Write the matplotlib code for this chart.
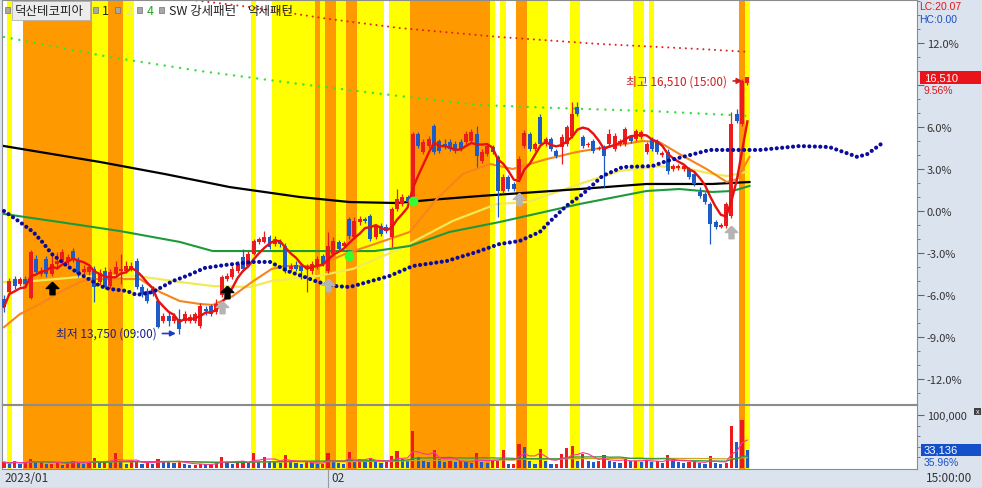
import numpy as np
import pandas as pd
import matplotlib
matplotlib.use('Agg')
import matplotlib.pyplot as plt
from matplotlib.patches import Rectangle

plt.rcParams['font.family'] = ['Noto Sans CJK KR', 'DejaVu Sans']

W, H = 982, 489

# candles as % change from reference price (16,510 = +9.56%)
opens = [-6.29, -5.79, -4.86, -5.21, -4.86, -6.21, -3.43, -4.5, -3.43, -4.5,
         -3.79, -3.64, -3.57, -2.86, -3.57, -4.36, -4.36, -4.14, -5.07, -4.29,
         -5.36, -4.5, -4.29, -4.29, -4.14, -3.57, -5.43, -5.71, -5.57, -6.43,
         -7.86, -7.5, -7.86, -7.71, -7.86, -7.86, -7.86, -8.21, -7.0, -6.79,
         -7.21, -6.0, -4.86, -4.71, -4.29, -3.29, -3.93, -3.07, -2.21, -2.21,
         -1.86, -2.36, -2.21, -2.5, -4.14, -3.86, -3.93, -4.14, -4.29, -3.93,
         -3.21, -4.29, -3.07, -2.21, -2.5, -0.57, -1.86, -0.79, -0.57, -0.36,
         -1.86, -1.07, -1.14, -1.86, 0.14, 0.5, 1.0, 0.64, 5.5, 4.21,
         4.64, 6.07, 5.0, 4.79, 4.93, 4.79, 4.93, 4.93, 5.0, 5.5,
         3.57, 4.07, 4.57, 3.86, 1.43, 2.43, 1.93, 2.29, 4.64, 5.5,
         4.43, 6.71, 4.79, 5.14, 4.29, 4.57, 4.79, 5.36, 7.43, 5.29,
         4.71, 5.0, 4.43, 4.57, 4.79, 4.43, 4.79, 4.79, 5.29, 5.14,
         5.29, 4.21, 5.14, 5.0, 4.0, 4.21, 3.0, 3.07, 3.0, 3.0,
         2.64, 1.36, 1.21, 0.5, -0.79, -1.14, -1.07, -0.36, 6.93, 6.21,
         9.14]
closes = [-6.86, -5.0, -5.36, -4.86, -5.21, -2.93, -4.36, -4.29, -4.5, -3.79,
          -3.57, -2.93, -3.29, -3.43, -4.5, -4.14, -4.0, -5.43, -4.43, -5.43,
          -4.36, -4.0, -4.14, -3.93, -3.93, -5.43, -5.93, -6.43, -5.93, -8.29,
          -7.5, -7.86, -7.5, -8.43, -7.36, -7.57, -7.36, -6.79, -7.14, -7.36,
          -6.64, -4.71, -4.64, -4.14, -3.79, -4.14, -3.07, -2.14, -2.0, -1.86,
          -2.57, -2.0, -2.36, -4.29, -3.93, -4.14, -4.29, -3.93, -3.79, -3.43,
          -3.79, -2.5, -2.14, -2.71, -2.29, -1.79, -0.71, -0.57, -0.71, -2.0,
          -1.07, -1.64, -1.43, 0.14, 0.86, 1.0, 0.64, 5.5, 4.64, 4.93,
          5.14, 4.21, 4.29, 4.57, 4.43, 4.29, 4.43, 5.5, 5.64, 3.93,
          4.21, 4.64, 4.21, 1.43, 2.43, 1.57, 1.57, 3.71, 5.57, 4.43,
          4.79, 4.79, 5.14, 4.43, 3.93, 5.29, 6.0, 6.93, 6.93, 4.64,
          4.79, 4.29, 4.5, 3.93, 5.5, 5.36, 5.0, 5.86, 5.0, 5.71,
          5.64, 4.79, 4.43, 4.21, 4.14, 2.86, 3.21, 3.21, 3.21, 2.43,
          1.93, 1.07, 0.64, -0.93, -1.14, -1.0, 0.5, 6.21, 6.43, 9.29,
          9.56]
highs = [-6.0, -4.79, -4.64, -4.71, -4.64, -2.79, -3.14, -4.0, -3.21, -3.07,
         -2.93, -2.71, -3.07, -2.64, -3.29, -3.86, -3.79, -3.93, -4.14, -4.0,
         -4.14, -3.57, -3.07, -3.57, -3.64, -3.36, -5.21, -5.5, -5.36, -6.29,
         -7.29, -7.14, -7.29, -7.0, -7.14, -7.36, -7.21, -6.57, -6.79, -6.64,
         -6.29, -4.57, -4.43, -3.93, -3.57, -2.71, -2.86, -2.0, -1.86, -1.43,
         -1.71, -1.79, -2.0, -2.29, -3.71, -3.57, -3.79, -3.79, -3.57, -3.21,
         -3.07, -1.5, -1.86, -2.07, -2.14, -0.43, -0.43, -0.36, -0.43, -0.21,
         -0.93, -0.86, -0.93, 0.29, 1.57, 1.21, 1.14, 5.64, 5.64, 5.14,
         5.36, 6.21, 5.14, 5.14, 5.14, 5.0, 5.14, 5.71, 5.86, 6.07,
         4.43, 4.79, 4.71, 4.0, 2.64, 2.57, 2.07, 3.93, 5.79, 5.64,
         4.93, 6.93, 5.29, 5.29, 4.43, 5.5, 6.14, 7.79, 7.79, 5.43,
         4.93, 5.14, 4.64, 4.71, 5.86, 5.57, 5.14, 6.0, 5.43, 5.86,
         5.79, 4.93, 5.29, 5.14, 4.29, 4.43, 3.36, 3.36, 3.36, 3.14,
         2.79, 1.71, 1.36, 0.64, -0.64, -0.86, 0.64, 7.07, 7.29, 9.43,
         9.56]
lows = [-7.21, -6.0, -5.57, -5.36, -5.43, -6.29, -4.5, -4.64, -4.71, -4.64,
        -4.14, -3.79, -3.86, -3.64, -4.71, -4.5, -4.57, -6.5, -5.29, -5.57,
        -5.5, -4.64, -5.21, -4.43, -4.29, -5.57, -6.14, -6.57, -6.07, -8.36,
        -8.0, -8.21, -8.0, -8.75, -8.0, -8.0, -8.0, -8.36, -7.43, -7.5,
        -7.36, -6.14, -5.0, -4.86, -4.43, -4.29, -4.0, -3.14, -2.36, -2.29,
        -2.71, -2.5, -2.57, -4.43, -4.29, -4.29, -4.86, -5.79, -4.5, -4.14,
        -3.93, -4.43, -3.21, -2.86, -2.64, -2.0, -2.0, -1.0, -0.86, -2.14,
        -2.0, -1.79, -1.57, -2.57, 0.0, 0.36, 0.5, 0.5, 4.5, 4.07,
        4.5, 4.07, 4.14, 4.43, 4.29, 4.14, 4.29, 4.79, 4.86, 3.14,
        3.43, 3.93, 4.07, -0.43, 1.29, 1.43, 1.43, 2.14, 4.5, 4.29,
        4.29, 4.64, 4.64, 4.29, 3.79, 3.36, 4.64, 5.21, 6.79, 4.5,
        4.57, 4.14, 4.36, 1.71, 4.64, 4.29, 4.64, 4.64, 4.86, 5.0,
        5.14, 4.07, 4.29, 4.07, 3.86, 2.64, 2.86, 2.93, 2.86, 2.29,
        1.79, 0.93, 0.5, -2.36, -1.29, -1.21, -1.21, -0.5, 6.29, 6.07,
        9.0]
volumes = [11000, 8000, 13000, 8000, 11000, 17000, 11000, 14000, 8000, 8000,
           11000, 6000, 10000, 14000, 10000, 8000, 11000, 19000, 11000, 12000,
           11000, 28000, 14000, 8000, 11000, 14000, 8000, 10000, 8000, 17000,
           14000, 12000, 10000, 11000, 8000, 5000, 6000, 8000, 7000, 8000,
           10000, 21000, 11000, 8000, 11000, 14000, 10000, 28000, 11000, 21000,
           14000, 11000, 10000, 25000, 11000, 10000, 8000, 11000, 10000, 8000,
           8000, 28000, 11000, 10000, 8000, 30000, 13000, 17000, 11000, 19000,
           13000, 10000, 11000, 22000, 32000, 17000, 13000, 70000, 21000, 14000,
           11000, 34000, 17000, 11000, 14000, 11000, 13000, 11000, 10000, 28000,
           11000, 10000, 13000, 14000, 34000, 8000, 8000, 45000, 40000, 13000,
           8000, 35000, 14000, 8000, 8000, 27000, 37000, 41000, 14000, 27000,
           14000, 11000, 14000, 24000, 13000, 11000, 10000, 19000, 14000, 14000,
           11000, 16000, 11000, 13000, 10000, 24000, 13000, 11000, 10000, 11000,
           14000, 10000, 8000, 22000, 10000, 8000, 10000, 80000, 50000, 91000,
           33136]

# pattern flags: (first candle, last candle, kind)
bands = [(1, 1, 'y'), (4, 16, 'o'), (17, 19, 'y'), (20, 22, 'o'), (23, 24, 'y'),
         (47, 47, 'y'), (51, 58, 'y'), (59, 59, 'o'), (60, 60, 'y'), (61, 62, 'o'),
         (63, 64, 'y'), (65, 66, 'o'), (67, 71, 'y'), (73, 76, 'y'), (77, 91, 'o'),
         (92, 92, 'y'), (94, 94, 'y'), (97, 98, 'o'), (99, 102, 'y'), (107, 108, 'y'),
         (119, 120, 'y'), (122, 122, 'y'), (139, 139, 'o'), (140, 140, 'y')]

# longer averages / envelopes (candle index, %)
orange_x = [0, 3.0, 6.8, 10.5, 14.3, 16.7, 25.6, 29.4, 33.1, 36.9, 39.3, 43.1, 46.7, 50.4,
            52.9, 59.1, 64.2, 69.8, 76.4, 81.5, 86.4, 91.5, 95.8, 102.2, 107.8, 114.6,
            120.2, 123.4, 127.2, 132.3, 136.1, 138.1, 140.4]
orange_y = [-8.3, -7.36, -6.64, -5.79, -5.07, -4.86, -4.86, -5.79, -6.43, -6.64, -6.71, -6.07,
            -5.07, -4.14, -3.93, -3.93, -3.07, -2.36, -1.5, 0.86, 2.64, 3.36, 3.0, 3.71, 4.21,
            4.64, 5.0, 4.93, 4.07, 3.0, 2.07, 2.29, 3.86]
yellow_x = [0, 5.5, 11.9, 16.2, 25.0, 33.1, 39.3, 46.3, 50.4, 59.1, 65.7, 74.5, 84.5, 92.8,
            98.6, 108.4, 115.9, 123.4, 129.1, 133.4, 136.2, 139.8]
yellow_y = [-5.07, -5.0, -4.79, -4.64, -4.64, -5.07, -5.36, -5.43, -5.0, -4.64, -4.14, -2.71,
            -0.71, 0.5, 0.64, 1.93, 2.86, 3.21, 3.0, 2.64, 2.5, 2.79]
green_x = [0, 10.5, 21.8, 33.1, 39.3, 46.7, 69.8, 76.4, 83.9, 93.3, 108.4, 121.0, 127.2,
           133.4, 137.2, 140.4]
green_y = [-0.21, -0.79, -1.43, -2.21, -2.86, -2.86, -2.86, -2.5, -1.5, -0.79, 0.5, 1.43,
           1.57, 1.36, 1.43, 1.79]
black_x = [0, 18.1, 30.3, 42.5, 55.7, 65.1, 74.0, 80.2, 89.6, 108.4, 121.0, 133.4, 140.4]
black_y = [4.64, 3.5, 2.64, 1.71, 1.0, 0.64, 0.57, 0.79, 1.07, 1.57, 1.93, 1.93, 2.07]
gdot_x = [0, 19.9, 36.9, 55.7, 74.5, 89.6, 103.7, 121.6, 140.4]
gdot_y = [12.43, 11.0, 10.0, 9.07, 8.21, 7.57, 7.36, 7.14, 6.79]
rdot_x = [34.1, 46.3, 61.3, 74.5, 93.3, 112.2, 131.0, 140.4]
rdot_y = [15.14, 14.57, 13.71, 13.07, 12.43, 11.93, 11.57, 11.36]
sar_x = [0, 3.0, 5.5, 7.2, 9.0, 11.9, 14.3, 16.6, 18.1, 19.9, 23.1, 25.0, 28.0, 31.8, 34.4,
         37.8, 41.6, 46.7, 50.1, 53.4, 56.1, 59.1, 62.3, 65.1, 72.6, 77.0, 83.4, 89.0, 93.3,
         97.1, 100.9, 102.7, 105.9, 109.0, 112.7, 116.5, 122.1, 124.8, 128.5, 132.9, 142.3,
         149.8, 155.4, 159.2, 160.7, 162.6, 165.2]
sar_y = [0.0, -0.79, -1.5, -2.21, -3.07, -3.93, -4.5, -5.0, -5.36, -5.57, -5.71, -6.0, -5.79,
         -5.0, -4.64, -4.07, -3.86, -3.64, -3.64, -4.29, -4.64, -5.07, -5.36, -5.43, -4.64,
         -3.93, -3.57, -2.93, -2.36, -2.14, -1.5, -0.79, 0.36, 1.21, 2.5, 3.14, 3.21, 3.57,
         3.93, 4.36, 4.36, 4.64, 4.57, 4.07, 3.86, 4.07, 4.79]

# signals
black_arrow_x, black_arrow_y = [9, 42], [-5.5, -5.79]
gray_arrow_x, gray_arrow_y = [41, 61, 97, 137], [-6.86, -5.29, 0.86, -1.5]
green_sig_x, green_sig_y = [65, 77], [-3.21, 0.71]

# ---------------------------------------------------------------
STEP, X0 = 5.31, 4.0   # pixel spacing of candles, first candle pixel
NUM = ['Liberation Sans', 'DejaVu Sans']


def fbox(x0, y0, x1, y1):
    return [x0 / W, 1 - y1 / H, (x1 - x0) / W, (y1 - y0) / H]


def fx(x):
    return x / W


def fy(y):
    return 1 - y / H


fig = plt.figure(figsize=(W / 100, H / 100), dpi=100, facecolor='#dbe3ef')
ax = fig.add_axes(fbox(2, 1, 917, 405))
axv = fig.add_axes(fbox(2, 406, 917, 470))

xlim = ((2 - X0) / STEP, (917 - X0) / STEP)
ax.set_xlim(*xlim)
axv.set_xlim(*xlim)
ax.set_ylim((212 - 405) / 14, (212 - 1) / 14)
axv.set_ylim(-1900, 118900)

band_col = {'o': '#ff9900', 'y': '#ffff00'}
for a, b, k in bands:
    for axx in (ax, axv):
        axx.axvspan(a - 0.5, b + 0.5, color=band_col[k], lw=0, zorder=0)

df = pd.DataFrame({'o': opens, 'h': highs, 'l': lows, 'c': closes, 'v': volumes})
x = np.arange(len(df))
up = df['c'] >= df['o']
ccol = np.where(up, '#ec1c1c', '#1c5cc4')

# moving lines
ax.plot(yellow_x, yellow_y, color='#f2ea55', lw=1.6, zorder=2)
ax.plot(green_x, green_y, color='#1c9a3a', lw=1.5, zorder=2)
ax.plot(black_x, black_y, color='black', lw=1.6, zorder=2)
ax.plot(orange_x, orange_y, color='#f7841c', lw=1.5, zorder=2)
ax.plot(gdot_x, gdot_y, color='#3ae03a', lw=1.8, ls=(0, (0.01, 3.1)),
        dash_capstyle='round', zorder=2)
ax.plot(rdot_x, rdot_y, color='#e02020', lw=1.5, ls=(0, (0.01, 2.8)),
        dash_capstyle='round', zorder=2)

# candles
ax.vlines(x, df['l'], df['h'], colors=ccol, lw=0.9, zorder=3)
body = (df['c'] - df['o']).abs().clip(lower=0.08)
ax.bar(x, body, bottom=df[['o', 'c']].min(axis=1), width=0.75, color=ccol, lw=0, zorder=3)

ma5 = df['c'].rolling(5, min_periods=1).mean()
ax.plot(x, ma5, color='#e81010', lw=1.7, zorder=4)

ax.plot(sar_x, sar_y, color='#0c0c9c', lw=3.0, ls=(0, (0.01, 1.3)),
        dash_capstyle='round', zorder=5)

arrow = [(0, 1), (-1, 0), (-0.4, 0), (-0.4, -1), (0.4, -1), (0.4, 0), (1, 0), (0, 1)]
ax.plot(black_arrow_x, black_arrow_y, ls='none', marker=arrow, ms=9, color='black', zorder=6)
ax.plot(gray_arrow_x, gray_arrow_y, ls='none', marker=arrow, ms=9, color='#b4b4b4', zorder=6)
ax.plot(green_sig_x, green_sig_y, ls='none', marker='o', ms=6, color='#33ff33', zorder=6)

# low / high notes
ax.text(28.8, -8.75, '최저 13,750 (09:00)', ha='right', va='center', color='#1c1c8c',
        fontsize=8.5, zorder=7)
ax.annotate('', xy=(32.9, -8.75), xytext=(29.3, -8.75),
            arrowprops=dict(arrowstyle='-|>', color='#1c3cc8', lw=1.2, mutation_scale=8), zorder=7)
ax.text(136.2, 9.29, '최고 16,510 (15:00)', ha='right', va='center', color='#cc2020',
        fontsize=8.5, zorder=7)
ax.annotate('', xy=(139.6, 9.29), xytext=(136.8, 9.29),
            arrowprops=dict(arrowstyle='-|>', color='#cc2020', lw=1.2, mutation_scale=8), zorder=7)

# volume panel
vup = df['v'].diff().fillna(1) >= 0
vcol = np.where(vup, '#ec1c1c', '#1c5cc4')
axv.bar(x, df['v'], width=0.6, color=vcol, lw=0, zorder=3)
axv.plot(x, df['v'].rolling(60, min_periods=1).mean(), color='#d0a020', lw=0.9, zorder=4)
axv.plot(x, df['v'].rolling(20, min_periods=1).mean(), color='#2a9a3a', lw=0.9, zorder=4)
axv.plot(x, df['v'].rolling(5, min_periods=1).mean(), color='#ff3399', lw=0.8, zorder=4)

# axes styling
for axx in (ax, axv):
    axx.set_facecolor('white')
    axx.set_xticks([])
    for s in axx.spines.values():
        s.set_color('#8c8c8c')
        s.set_linewidth(0.8)
    axx.yaxis.tick_right()
    axx.tick_params(axis='y', which='major', length=5, color='#666666', labelsize=8,
                    labelcolor='#333333', pad=2)
    axx.tick_params(axis='y', which='minor', length=2.5, color='#666666')

pct_ticks = [-12, -9, -6, -3, 0, 3, 6, 9, 12]
ax.set_yticks(pct_ticks)
ax.set_yticklabels(['' if t == 9 else f'{t:.1f}%' for t in pct_ticks])
ax.set_yticks(np.arange(-13, 16, 1), minor=True)
axv.set_yticks([100000])
axv.set_yticklabels(['100,000'])
axv.set_yticks([20000, 40000, 60000, 80000], minor=True)


# legend row
def box(x0, y0, x1, y1, fc, ec='none', lw=0.6):
    fig.add_artist(Rectangle((fx(x0), fy(y1)), (x1 - x0) / W, (y1 - y0) / H,
                             transform=fig.transFigure, fc=fc, ec=ec, lw=lw, zorder=5))


box(12, 2, 90, 21, '#ececec', '#b0b0b0')
for sx in (5, 93, 115, 137, 159):
    box(sx, 8, sx + 5, 14, '#a8a8a8', '#707070', 0.5)
fig.text(fx(15), fy(11.5), '덕산테코피아', fontsize=9, color='#222222', va='center', zorder=6)
fig.text(fx(102), fy(11.5), '1', fontsize=9, color='#222222', va='center', zorder=6)
fig.text(fx(125), fy(11.5), '2', fontsize=9, color='#e4e48a', va='center', zorder=6)
fig.text(fx(147), fy(11.5), '4', fontsize=9, color='#22aa22', va='center', zorder=6)
fig.text(fx(169), fy(11.5), 'SW 강세패턴', fontsize=9, color='#222222', va='center', zorder=6)
fig.text(fx(247), fy(11.5), '약세패턴', fontsize=9, color='#222222', va='center', zorder=6)

# right side readouts
fig.text(fx(919), fy(7.5), 'LC:20.07', fontsize=7.5, family=NUM, color='#e01818', va='center')
fig.text(fx(919), fy(20), 'HC:0.00', fontsize=7.5, family=NUM, color='#1a4fc0', va='center')
box(920, 72, 981, 85, '#e8141a')
fig.text(fx(924), fy(78.5), '16,510', fontsize=8, family=NUM, color='white', va='center', zorder=6)
fig.text(fx(924), fy(91), '9.56%', fontsize=7.5, family=NUM, color='#e01818', va='center')
box(921, 445, 981, 457, '#1450c8')
fig.text(fx(924), fy(451), '33,136', fontsize=8, family=NUM, color='white', va='center', zorder=6)
fig.text(fx(924), fy(463.5), '35.96%', fontsize=7.5, family=NUM, color='#1a50c8', va='center')
box(974, 409, 981, 416, '#404040')
fig.text(fx(977.5), fy(412.5), 'x', fontsize=5, family=NUM, color='white', ha='center',
         va='center', zorder=6)

# time axis band
fig.text(fx(4), fy(479), '2023/01', fontsize=8.5, color='#333333', va='center')
fig.text(fx(331), fy(479), '02', fontsize=8.5, color='#333333', va='center')
fig.text(fx(926), fy(479), '15:00:00', fontsize=8.5, color='#333333', va='center')
fig.add_artist(plt.Line2D([fx(328), fx(328)], [fy(470), fy(489)], color='#9a9a9a', lw=0.8))
fig.add_artist(plt.Line2D([0, 1], [fy(488.5), fy(488.5)], color='#9a9a9a', lw=0.8))

fig.savefig('out.png', dpi=100, facecolor=fig.get_facecolor())
